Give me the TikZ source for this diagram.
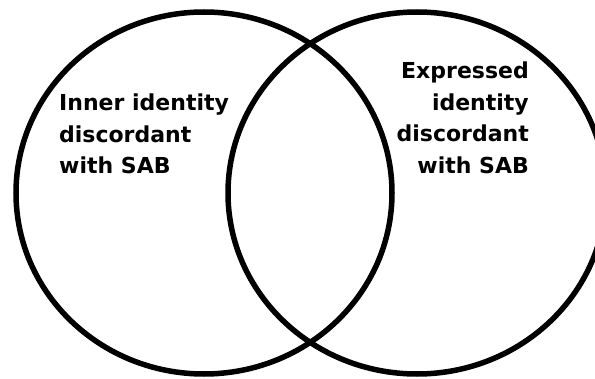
\documentclass[tikz,border=0pt]{standalone}
\usepackage{fontspec}
\setmainfont{DejaVu Sans}
\begin{document}
\begin{tikzpicture}[x=1pt,y=1pt,
  venn/.style={draw=black,line width=5.5pt},
  lbl/.style={inner sep=0pt,font=\bfseries\fontsize{22}{31.5}\selectfont}]
\useasboundingbox (0,0) rectangle (595,378);
\clip (0,0) rectangle (595,378);
\draw[venn] (204,185) ellipse [x radius=188, y radius=181];
\draw[venn] (417,185) ellipse [x radius=189, y radius=181];
\node[lbl,align=left,anchor=north west] (inner) at (59,284) {Inner identity\\discordant\\with SAB};
\node[lbl,align=right,anchor=north east] (expr) at (529,316) {Expressed\\identity\\discordant\\with SAB};
\end{tikzpicture}
\end{document}
